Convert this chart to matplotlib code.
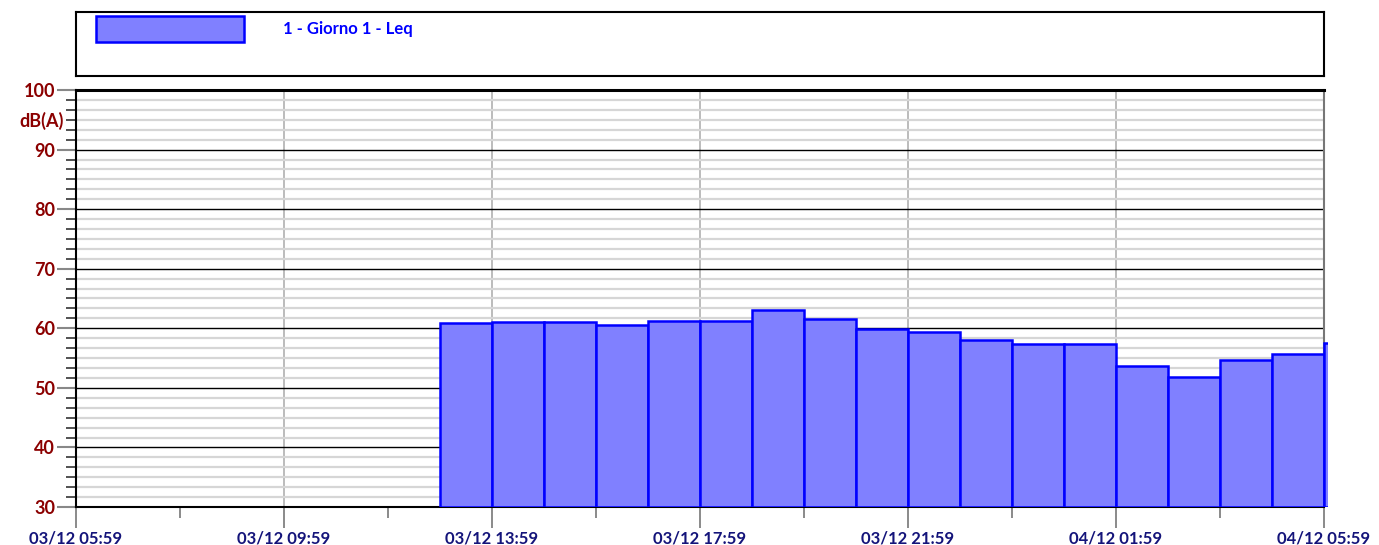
import pandas as pd
import matplotlib.pyplot as plt
from matplotlib.ticker import MultipleLocator
from matplotlib.patches import Rectangle
from matplotlib.transforms import Bbox, TransformedBbox

plt.rcParams['font.family'] = ['Lato', 'DejaVu Sans']

# dati: Leq orari (inizio intervallo)
bar_start = pd.date_range('2012-12-03 12:59', periods=18, freq='h')
leq = [60.9, 61.1, 61.0, 60.6, 61.2, 61.2, 63.1, 61.6, 59.8, 59.4,
       58.0, 57.4, 57.4, 53.7, 51.8, 54.7, 55.6, 57.6]
x_start = pd.Timestamp('2012-12-03 05:59')
x_end = pd.Timestamp('2012-12-04 05:59')
tick_labels = ['03/12 05:59', '03/12 09:59', '03/12 13:59', '03/12 17:59',
               '03/12 21:59', '04/12 01:59', '04/12 05:59']
series_name = '1 - Giorno 1 - Leq'

W, H = 1379, 545
fig = plt.figure(figsize=(W / 100, H / 100), dpi=100)
ax = fig.add_axes([76 / W, 1 - 507 / H, 1248 / W, 417 / H])

# barre
bars = ax.bar(bar_start, [v - 30 for v in leq], bottom=30, width=1 / 24, align='edge',
              color='#8080ff', edgecolor='#0000ff', linewidth=1.8, zorder=3)
# l'ultima barra inizia sul bordo destro: si vede solo il lato sinistro
bars[-1].set_clip_box(TransformedBbox(Bbox([[0, 0], [1.003, 1]]), ax.transAxes))

ax.set_xlim(x_start, x_end)
ax.set_ylim(30, 100)

# griglia y
ax.yaxis.set_major_locator(MultipleLocator(10))
ax.yaxis.set_minor_locator(MultipleLocator(10 / 6))
ax.grid(axis='y', which='major', color='black', linewidth=1, zorder=1)
ax.grid(axis='y', which='minor', color='#d6d6d6', linewidth=1.6, zorder=0)
ax.tick_params(axis='y', which='major', length=14, width=1.5, color='#888888',
               labelsize=13, labelcolor='#8b0000', pad=1)
ax.tick_params(axis='y', which='minor', length=7, width=1.2, color='#333333')
for lab in ax.get_yticklabels():
    lab.set_fontweight('bold')

# asse x
ticks = pd.date_range(x_start, x_end, freq='4h')
ax.set_xticks(ticks)
ax.set_xticklabels(tick_labels, fontsize=12, fontweight='bold', color='#14147a')
ax.set_xticks(pd.date_range(x_start + pd.Timedelta('2h'), x_end, freq='4h'), minor=True)
ax.grid(axis='x', which='major', color='#b0b0b0', linewidth=1.2, zorder=1)
ax.tick_params(axis='x', which='major', length=15, width=1.2, color='#777777', pad=2)
ax.tick_params(axis='x', which='minor', length=8, width=1.2, color='#777777')

ax.spines['top'].set_linewidth(2.2)
ax.spines['left'].set_linewidth(1.5)
ax.spines['bottom'].set_linewidth(1.5)
ax.spines['right'].set_color('#777777')
ax.spines['right'].set_linewidth(1.5)
ax.set_axisbelow(True)

ax.text(-0.01, 94.8, 'dB(A)', transform=ax.get_yaxis_transform(), ha='right',
        va='center', fontsize=13, fontweight='bold', color='#8b0000')

# legenda
lax = fig.add_axes([76 / W, 1 - 76 / H, 1248 / W, 64 / H])
lax.set_xlim(0, 1248)
lax.set_ylim(64, 0)
lax.set_xticks([])
lax.set_yticks([])
for s in lax.spines.values():
    s.set_linewidth(1.5)
lax.add_patch(Rectangle((20, 4), 148, 26, facecolor='#8080ff', edgecolor='#0000ff', linewidth=1.8))
lax.text(207, 17, series_name, fontsize=12, fontweight='bold', color='#0000ff', va='center')

fig.savefig('out.png', dpi=100)
